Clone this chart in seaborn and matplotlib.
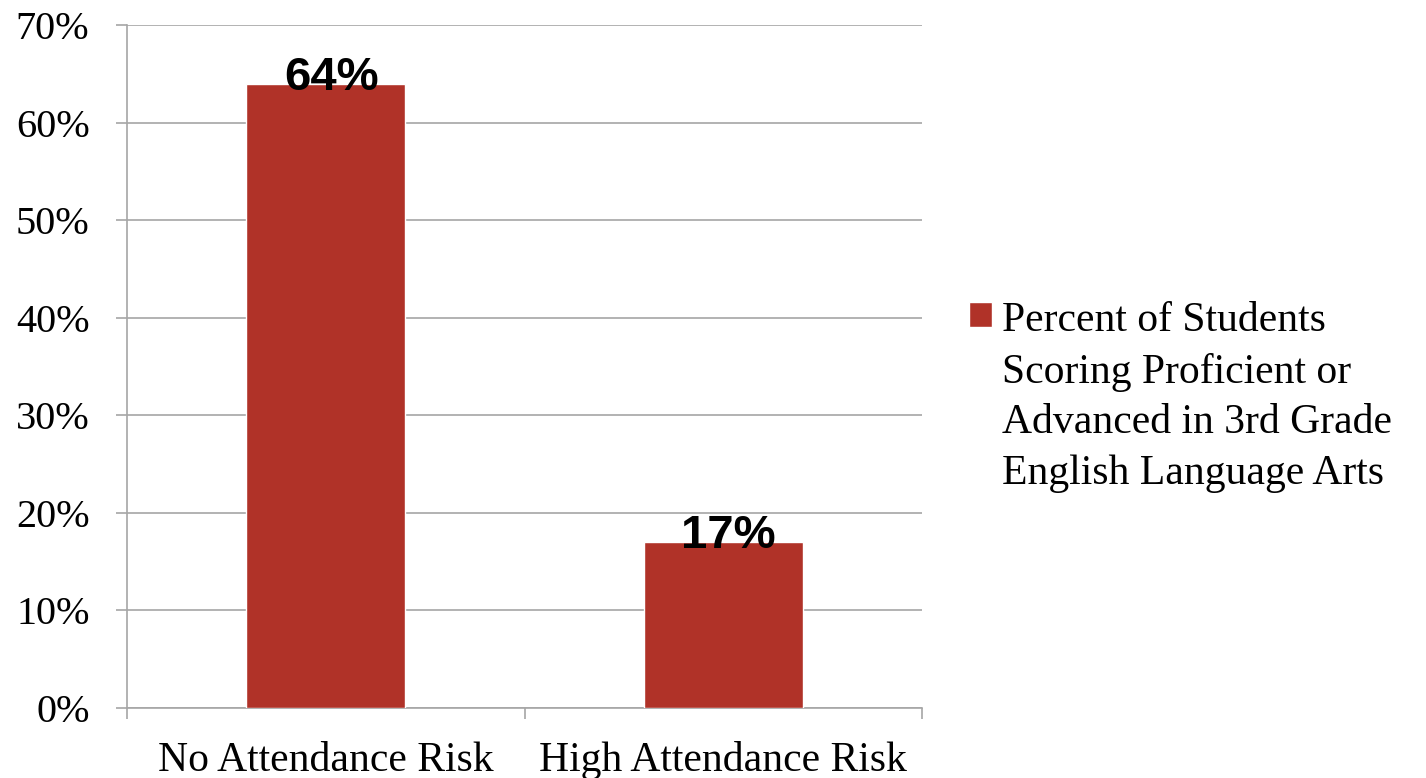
import matplotlib
matplotlib.use('Agg')
import matplotlib.pyplot as plt
import seaborn as sns
import pandas as pd

categories = ['No Attendance Risk', 'High Attendance Risk']
percent = [64, 17]
series_name = 'Percent of Students\nScoring Proficient or\nAdvanced in 3rd Grade\nEnglish Language Arts'
bar_color = '#B03228'
grid_color = '#A6A6A6'

sns.set_theme(style='white')
plt.rcParams['font.family'] = ['Liberation Serif', 'DejaVu Serif']
plt.rcParams['text.color'] = 'black'
plt.rcParams['xtick.color'] = 'black'
plt.rcParams['ytick.color'] = 'black'

df = pd.DataFrame({'Category': categories, 'Percent': percent})

fig = plt.figure(figsize=(14.26, 7.78), dpi=100)
ax = fig.add_axes([127 / 1426, 1 - 708 / 778, (922 - 127) / 1426, (708 - 25) / 778])

sns.barplot(data=df, x='Category', y='Percent', color=bar_color, width=0.4,
            saturation=1, ax=ax, label=series_name, zorder=3)

ax.set_xlim(-0.5, 1.5)
ax.set_ylim(0, 70)
ax.set_yticks(range(0, 71, 10))
ax.set_yticklabels([f'{v}%' for v in range(0, 71, 10)], fontsize=29)
ax.yaxis.grid(True, color=grid_color, linewidth=1.2, zorder=0)
ax.set_xlabel('')
ax.set_ylabel('')

# category labels centered, tick marks at the boundaries
ax.set_xticks([0, 1])
ax.set_xticklabels(categories, fontsize=30)
ax.tick_params(axis='x', length=0, pad=24)
ax.set_xticks([-0.5, 0.5, 1.5], minor=True)
ax.tick_params(axis='x', which='minor', bottom=True, direction='out', length=8,
               color=grid_color, width=1.2)
ax.tick_params(axis='y', left=True, direction='out', length=8, color=grid_color,
               width=1.2, pad=19, labelcolor='black')

for side in ['top', 'right']:
    ax.spines[side].set_visible(False)
for side in ['left', 'bottom']:
    ax.spines[side].set_color(grid_color)
    ax.spines[side].set_linewidth(1.2)

for patch, v in zip(ax.patches, percent):
    ax.annotate(f'{v}%', (patch.get_x() + patch.get_width() / 2, v),
                xytext=(4, -4.5), textcoords='offset points', ha='center', va='baseline',
                fontsize=34, fontweight='bold', color='black',
                family=['Liberation Sans', 'DejaVu Sans'], zorder=5)

leg = ax.legend(loc='upper left', bbox_to_anchor=(969 / 1426, 1 - 302 / 778),
                bbox_transform=fig.transFigure, frameon=False, fontsize=30,
                handlelength=0.55, handleheight=0.55, handletextpad=0.25,
                labelspacing=0, borderpad=0, borderaxespad=0)
for t in leg.get_texts():
    t.set_linespacing(1.41)
# keep the swatch next to the first line of the label
for row in leg._legend_handle_box.get_children()[0].get_children():
    row.align = 'top'

fig.savefig('out.png', dpi=100)
